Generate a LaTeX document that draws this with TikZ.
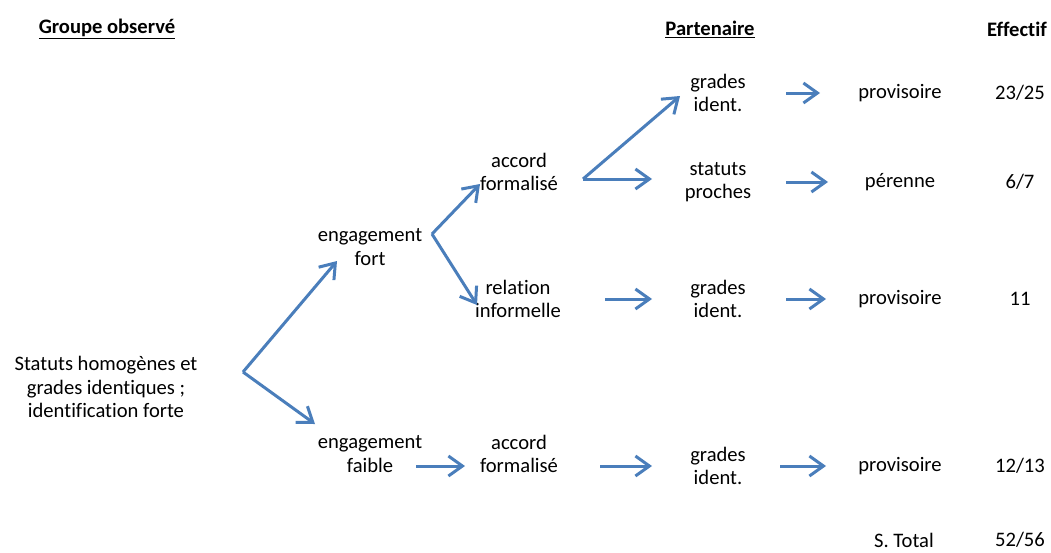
\documentclass[tikz,border=0pt]{standalone}
\usepackage{fontspec}
\setmainfont{Carlito}[Ligatures=NoCommon]
\usetikzlibrary{arrows.meta}
\definecolor{Gblue}{RGB}{74,126,187}
\tikzset{Gtxt/.style={align=center,inner sep=0pt,yshift=-2pt,font=\fontsize{20.6}{23.7}\selectfont},
         Ghead/.style={Gtxt,font=\fontsize{20.6}{23.7}\selectfont\bfseries},
         Garr/.style={draw=Gblue,line width=3pt,-{Straight Barb[length=14pt,width=20pt]}}}

\begin{document}
\begin{tikzpicture}[x=1pt,y=-1pt]
    \useasboundingbox (0,0) rectangle (1051,552);
    % headers
    \node[Ghead] (hgr) at (107,27) {\underline{Groupe observé}};
    \node[Ghead] (hpa) at (710,27) {\underline{Partenaire}};
    \node[Ghead] (hef) at (1017,27) {Effectif};
    % tree
    \node[Gtxt] (st) at (106,385) {Statuts homogènes et\\grades identiques ;\\identification forte};
    \coordinate (b0) at (243,372);
    \node[Gtxt] (fo) at (370,245) {engagement\\fort};
    \node[Gtxt] (fa) at (370,452) {engagement\\faible};
    \coordinate (b1) at (432,234);
    \node[Gtxt] (af1) at (519,170) {accord\\formalisé};
    \node[Gtxt] (ri) at (518,297) {relation\\informelle};
    \node[Gtxt] (af2) at (519,452) {accord\\formalisé};
    \coordinate (b2) at (583,179);
    \foreach \n/\y/\t in {gi1/91/grades\\ident.,sp/180/statuts\\proches,gi2/297/grades\\ident.,gi3/464/grades\\ident.}
      {\node[Gtxt] (\n) at (718,\y) {\t};}
    \foreach \n/\y/\t in {pv1/91/provisoire,pe/180/pérenne,pv2/297/provisoire,pv3/464/provisoire}
      {\node[Gtxt] (\n) at (900,\y) {\t};}
    \foreach \n/\y/\t in {e1/91/23\slash 25,e2/180/6\slash 7,e3/297/11,e4/464/12\slash 13,e5/538/52\slash 56}
      {\node[Gtxt] (\n) at (1020,\y) {\t};}
    \node[Gtxt] (tot) at (904,538) {S. Total};
    % branches
    \draw[Garr] (b0) -- ([shift={(-33,14)}]fo.center);
    \draw[Garr] (b0) -- ([shift={(-55,-30)}]fa.center);
    \draw[Garr] (b1) -- ([shift={(-39,12)}]af1.center);
    \draw[Garr] (b1) -- ([shift={(-41,6)}]ri.center);
    \draw[Garr] (b2) -- ([shift={(-38,3)}]gi1.center);
    \draw[Garr] (b2) -- ([xshift=-66pt]sp.center |- b2);
    % straight arrows
    \draw[Garr,shorten <=68pt,shorten >=80pt] (gi1.center) -- (pv1.center);
    \draw[Garr,shorten <=68pt,shorten >=72pt] (sp.center) -- (pe.center);
    \draw[Garr,shorten <=87pt,shorten >=66pt] (ri.center) -- (gi2.center);
    \draw[Garr,shorten <=68pt,shorten >=74pt] (gi2.center) -- (pv2.center);
    \draw[Garr,shorten <=46pt,shorten >=54pt] (fa.center |- gi3.center) -- (af2.center |- gi3.center);
    \draw[Garr,shorten <=81pt,shorten >=66pt] (af2.center |- gi3.center) -- (gi3.center);
    \draw[Garr,shorten <=62pt,shorten >=74pt] (gi3.center) -- (pv3.center);
  \end{tikzpicture}
\end{document}
